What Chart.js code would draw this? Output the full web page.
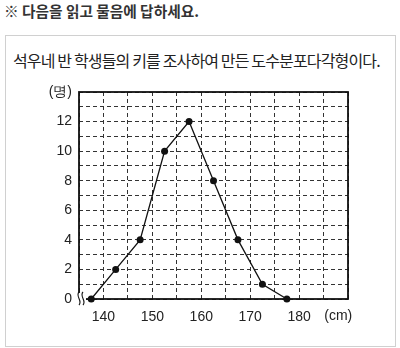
<!DOCTYPE html>
<html>
<head>
<meta charset="utf-8">
<script src="https://cdn.jsdelivr.net/npm/chart.js@4"></script>
<style>
  body { margin: 0; background: #fff; width: 400px; height: 348px; position: relative; overflow: hidden; font-family: "Noto Sans CJK KR", sans-serif; color: #222; }
  #head { position: absolute; left: 4px; top: 1px; font-size: 14.7px; font-weight: bold; line-height: 20px; white-space: nowrap; color: #333; }
  #box { position: absolute; left: 5px; top: 35px; width: 389px; height: 310px; border: 1px solid #d0d0d0; }
  #title { position: absolute; left: 13px; top: 48px; font-size: 16px; letter-spacing: -0.85px; line-height: 24px; white-space: nowrap; color: #222; }
  #wrap { position: absolute; left: 0; top: 0; width: 400px; height: 348px; }
</style>
</head>
<body>
<div id="head">※ 다음을 읽고 물음에 답하세요.</div>
<div id="box"></div>
<div id="title">석우네 반 학생들의 키를 조사하여 만든 도수분포다각형이다.</div>
<div id="wrap"><canvas id="polyChart"></canvas></div>
<script>
// class midpoints (cm) and number of students
const heights = [137.5, 142.5, 147.5, 152.5, 157.5, 162.5, 167.5, 172.5, 177.5];
const counts = [0, 2, 4, 10, 12, 8, 4, 1, 0];
const xLabels = [140, 150, 160, 170, 180];
const yLabels = [0, 2, 4, 6, 8, 10, 12];
const yUnit = '(명)';
const xUnit = '(cm)';

const tickFont = { family: '"Liberation Sans", Arial, sans-serif', size: 14 };

// frame, break mark and unit label
const decor = {
    id: 'decor',
    beforeDatasetsDraw(chart) {
        const { ctx, chartArea: a } = chart;
        ctx.save();
        ctx.strokeStyle = '#111';
        ctx.lineWidth = 1.8;
        ctx.strokeRect(a.left, a.top, a.right - a.left, a.bottom - a.top);
        // wavy break mark at the origin
        ctx.fillStyle = '#fff';
        ctx.fillRect(a.left - 2, a.bottom - 6, 9, 10);
        ctx.lineWidth = 1.1;
        for (const dx of [0, 4]) {
            ctx.beginPath();
            ctx.moveTo(a.left + dx, a.bottom - 7);
            ctx.bezierCurveTo(a.left + dx - 4, a.bottom - 3, a.left + dx + 4, a.bottom + 2, a.left + dx, a.bottom + 6);
            ctx.stroke();
        }
        ctx.restore();
    },
    afterDraw(chart) {
        const { ctx, scales } = chart;
        ctx.save();
        ctx.font = '14px "Liberation Sans", Arial, sans-serif';
        ctx.fillStyle = '#222';
        ctx.textAlign = 'center';
        ctx.textBaseline = 'middle';
        ctx.fillText(xUnit, scales.x.getPixelForValue(188), scales.x.bottom - 13);
        ctx.restore();
    }
};

new Chart(document.getElementById('polyChart'), {
    type: 'line',
    data: {
        datasets: [{
            data: heights.map((h, i) => ({ x: h, y: counts[i] })),
            borderColor: '#111',
            borderWidth: 1.3,
            backgroundColor: '#111',
            pointRadius: 3.5,
            pointBorderWidth: 0,
            tension: 0,
            clip: false
        }]
    },
    options: {
        responsive: true,
        maintainAspectRatio: false,
        animation: false,
        layout: { padding: { left: 39, right: 52, top: 92, bottom: 19 } },
        plugins: { legend: { display: false }, tooltip: { enabled: false } },
        scales: {
            x: {
                type: 'linear',
                min: 135,
                max: 190,
                afterFit: s => { s.height = 30; },
                border: { display: false, dash: [4, 3] },
                grid: { color: '#333', lineWidth: 1, drawTicks: false },
                ticks: {
                    stepSize: 5,
                    padding: 10,
                    color: '#222',
                    font: tickFont,
                    maxRotation: 0,
                    autoSkip: false,
                    callback: v => xLabels.includes(v) ? String(v) : ''
                }
            },
            y: {
                min: 0,
                max: 14,
                afterFit: s => { s.width = 40; },
                border: { display: false, dash: [4, 3] },
                grid: { color: '#333', lineWidth: 1, drawTicks: false },
                ticks: {
                    stepSize: 1,
                    padding: 7,
                    color: '#222',
                    font: tickFont,
                    autoSkip: false,
                    callback: v => v === 14 ? yUnit : (yLabels.includes(v) ? String(v) : '')
                }
            }
        }
    },
    plugins: [decor]
});
</script>
</body>
</html>
